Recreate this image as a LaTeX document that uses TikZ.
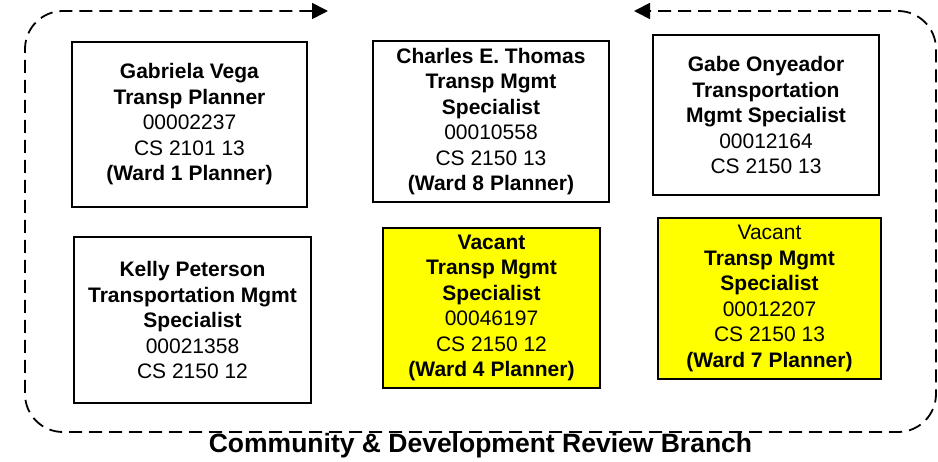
\documentclass[tikz,border=0pt]{standalone}
\usepackage{fontspec}
\setmainfont{Liberation Sans}
\usetikzlibrary{arrows.meta}
\definecolor{vacyellow}{RGB}{255,255,0}
\begin{document}
\begin{tikzpicture}[x=1pt,y=-1pt,
  posbox/.style={draw=black, line width=1.6pt, align=center, inner sep=0pt,
    font=\fontsize{21}{25.5}\selectfont, text=black},
  vacbox/.style={posbox, fill=vacyellow},
  branchframe/.style={draw=black, line width=1.8pt, dash pattern=on 13pt off 7pt,
    rounded corners=38pt},
  tiphead/.tip={Triangle[length=16pt,width=16pt]}
]
\useasboundingbox (0,0) rectangle (938,462);

\node[posbox, minimum width=235pt, minimum height=165pt] (vega) at (189.5,124.5)
  {\textbf{Gabriela Vega}\\\textbf{Transp Planner}\\00002237\\CS 2101 13\\\textbf{(Ward 1 Planner)}};
\node[posbox, minimum width=236pt, minimum height=161pt] (thomas) at (491,121.5)
  {\textbf{Charles E. Thomas}\\\textbf{Transp Mgmt}\\\textbf{Specialist}\\00010558\\CS 2150 13\\\textbf{(Ward 8 Planner)}};
\node[posbox, minimum width=226pt, minimum height=160pt] (onyeador) at (766,115)
  {\textbf{Gabe Onyeador}\\\textbf{Transportation}\\\textbf{Mgmt Specialist}\\00012164\\CS 2150 13};
\node[posbox, minimum width=237pt, minimum height=166pt] (peterson) at (192.5,320)
  {\textbf{Kelly Peterson}\\\textbf{Transportation Mgmt}\\\textbf{Specialist}\\00021358\\CS 2150 12};
\node[vacbox, minimum width=217pt, minimum height=160pt] (vacfour) at (491.5,308)
  {\textbf{Vacant}\\\textbf{Transp Mgmt}\\\textbf{Specialist}\\00046197\\CS 2150 12\\\textbf{(Ward 4 Planner)}};
\node[vacbox, minimum width=223pt, minimum height=161pt] (vacseven) at (769.5,298.5)
  {Vacant\\\textbf{Transp Mgmt}\\\textbf{Specialist}\\00012207\\CS 2150 13\\\textbf{(Ward 7 Planner)}};

\coordinate (frameA) at (328,11);
\coordinate (frameB) at (634,11);
\draw[branchframe, tiphead-tiphead] (frameA) -- (25,11) -- (25,432) -- (936,432) -- (936,11) -- (frameB);

\node[font=\fontsize{26.5}{30}\selectfont\bfseries, anchor=base, inner sep=0pt] (title) at (480.5,453)
  {Community \& Development Review Branch};
\end{tikzpicture}
\end{document}
